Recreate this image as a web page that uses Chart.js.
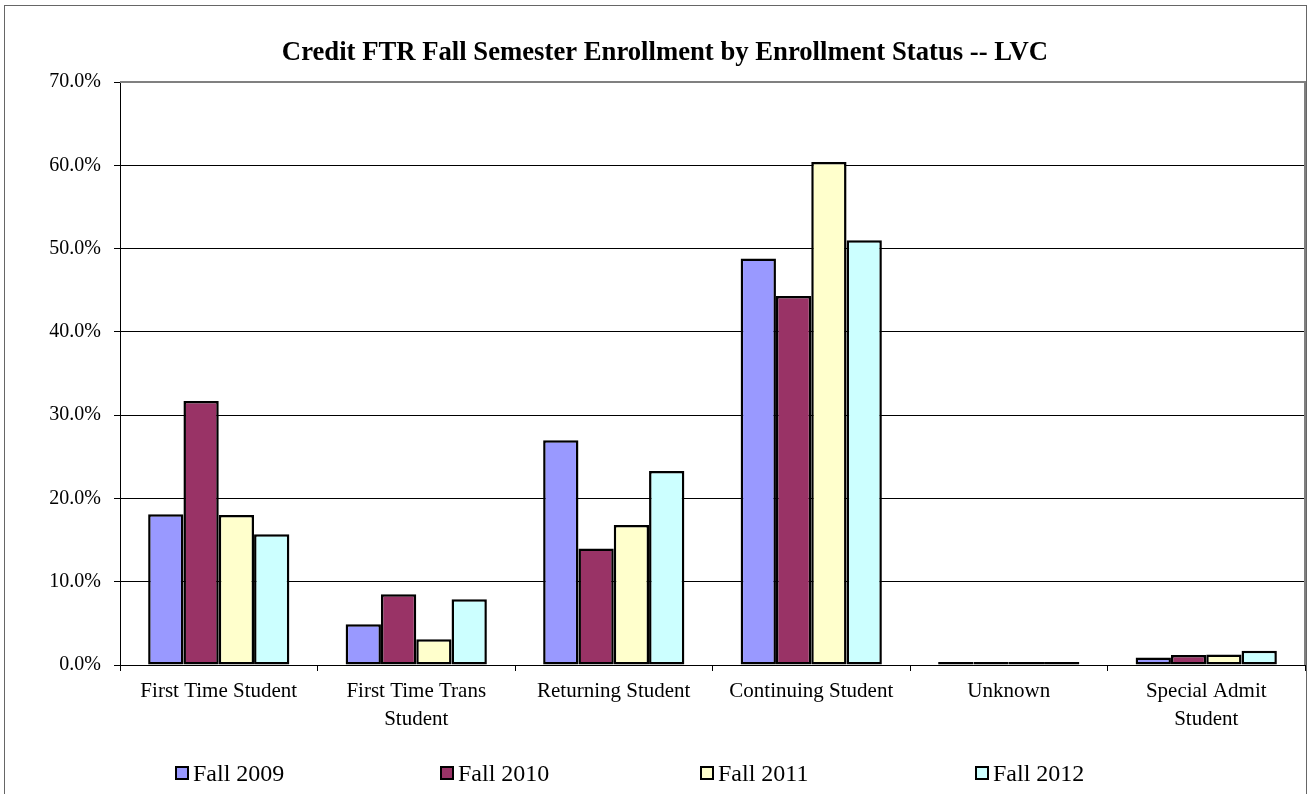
<!DOCTYPE html>
<html lang="en">
<head>
<meta charset="UTF-8">
<title>Credit FTR Fall Semester Enrollment by Enrollment Status -- LVC</title>
<script src="https://cdn.jsdelivr.net/npm/chart.js"></script>
<style>
  body { margin: 0; background: #fff; font-family: 'Liberation Serif', 'Times New Roman', serif; }
  .frame { position: absolute; left: 4px; top: 5px; width: 1301px; height: 800px; border: 1px solid #666; }
  .wrap { position: absolute; left: 0; top: 0; width: 1308px; height: 794px; }
  .legend-item { position: absolute; top: 759px; height: 28px; line-height: 28px; font-size: 24px; color: #000; white-space: nowrap; }
  .legend-item span.box { display: inline-block; width: 10px; height: 10px; border: 2px solid #000; margin-right: 4px; vertical-align: 1px; }
</style>
</head>
<body>
<div class="frame"></div>
<div class="wrap"><canvas id="chart" width="1308" height="794"></canvas></div>
<div id="legend"></div>
<script>
// categories and series values (percent of enrollment)
const categories = ['First Time Student', ['First Time Trans', 'Student'], 'Returning Student',
  'Continuing Student', 'Unknown', ['Special Admit', 'Student']];
const fall2009 = [18.1, 4.9, 27.0, 48.8, 0.1, 0.9];
const fall2010 = [31.7, 8.5, 14.0, 44.3, 0.1, 1.2];
const fall2011 = [18.0, 3.1, 16.8, 60.4, 0.2, 1.25];
const fall2012 = [15.7, 7.9, 23.3, 51.0, 0.1, 1.7];
const yTicks = [0, 10, 20, 30, 40, 50, 60, 70];

const serif = "'Liberation Serif', 'Times New Roman', serif";

function series(label, data, color) {
  return { label, data, backgroundColor: color, borderColor: '#000', borderWidth: 2.5,
    borderSkipped: false, minBarLength: 3, categoryPercentage: 0.715, barPercentage: 1.0 };
}

// gray frame round the plot area, like the Excel original
const plotFrame = {
  id: 'plotFrame',
  beforeDatasetsDraw(chart) {
    const a = chart.chartArea, ctx = chart.ctx;
    ctx.save();
    ctx.strokeStyle = '#808080';
    ctx.lineWidth = 2;
    ctx.beginPath();
    ctx.moveTo(a.left, a.top);
    ctx.lineTo(a.right, a.top);
    ctx.lineTo(a.right, a.bottom);
    ctx.stroke();
    ctx.restore();
  }
};

const chart = new Chart(document.getElementById('chart'), {
  type: 'bar',
  data: {
    labels: categories,
    datasets: [
      series('Fall 2009', fall2009, '#9999FF'),
      series('Fall 2010', fall2010, '#993366'),
      series('Fall 2011', fall2011, '#FFFFCC'),
      series('Fall 2012', fall2012, '#CCFFFF')
    ]
  },
  options: {
    responsive: false,
    animation: false,
    layout: { padding: { left: 25, right: 3, top: 37, bottom: 59 } },
    plugins: {
      title: {
        display: true,
        text: 'Credit FTR Fall Semester Enrollment by Enrollment Status -- LVC',
        color: '#000',
        font: { family: serif, size: 26.7, weight: 'bold' },
        padding: { top: 0, bottom: 13 }
      },
      legend: { display: false },
      tooltip: { enabled: false }
    },
    scales: {
      x: {
        grid: { offset: true, drawOnChartArea: false, tickLength: 6, color: '#000' },
        border: { color: '#000', width: 1 },
        ticks: { color: '#000', font: { family: serif, size: 21, lineHeight: 1.35 }, maxRotation: 0, padding: 6 },
        afterFit(scale) { scale.height = 70; }
      },
      y: {
        min: 0,
        max: 70,
        afterBuildTicks(scale) { scale.ticks = yTicks.map(v => ({ value: v })); },
        grid: { color: '#000', lineWidth: 1, tickLength: 6 },
        border: { color: '#000', width: 1 },
        ticks: {
          color: '#000',
          font: { family: serif, size: 20 },
          padding: 13,
          callback: v => v.toFixed(1) + '%'
        },
        afterFit(scale) { scale.width = 95; }
      }
    }
  },
  plugins: [plotFrame]
});

// legend spread out across the bottom like the original
const legendLeft = [175, 440, 700, 975];
const legend = document.getElementById('legend');
chart.data.datasets.forEach((ds, i) => {
  const item = document.createElement('div');
  item.className = 'legend-item';
  item.style.left = legendLeft[i] + 'px';
  item.innerHTML = '<span class="box" style="background:' + ds.backgroundColor + '"></span>' + ds.label;
  legend.appendChild(item);
});
</script>
</body>
</html>
